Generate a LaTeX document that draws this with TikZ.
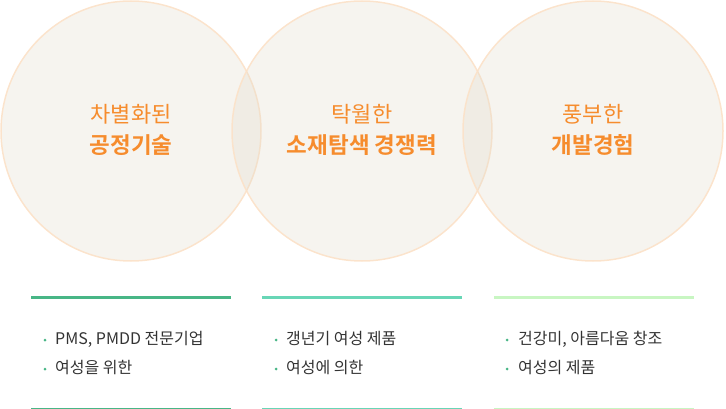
\documentclass[tikz,border=0pt]{standalone}
\usepackage{fontspec}
\newfontfamily\kr{Noto Sans CJK KR}
\newfontfamily\krm{Noto Sans CJK KR Medium}
\newfontfamily\krb{Noto Sans CJK KR Bold}
\definecolor{circfill}{RGB}{225,218,202}
\definecolor{circline}{RGB}{252,226,200}
\definecolor{orangetxt}{RGB}{246,140,45}
\definecolor{darktxt}{RGB}{51,51,51}
\definecolor{gA}{RGB}{72,182,134}
\definecolor{gB}{RGB}{104,214,182}
\definecolor{gC}{RGB}{200,246,194}
\tikzset{
  circ/.style={circle, minimum size=260pt, inner sep=0pt, fill=circfill, fill opacity=0.3, draw=circline, draw opacity=0.9, line width=1.5pt},
  head/.style={text=orangetxt, font=\kr\fontsize{22}{24}\selectfont, inner sep=0pt},
  headb/.style={text=orangetxt, font=\krb\fontsize{22.5}{24}\selectfont, inner sep=0pt},
  item/.style={text=darktxt, font=\kr\fontsize{16}{18}\selectfont, anchor=west, inner sep=0pt},
  dot/.style={circle, inner sep=0pt, minimum size=3pt}
}
\begin{document}
\begin{tikzpicture}[x=1pt,y=-1pt]
\useasboundingbox (0,0) rectangle (726,409);
\node[circ] (c1) at (131,131) {};
\node[circ] (c2) at (362,131) {};
\node[circ] (c3) at (593,131) {};
\node[head] (t1a) at (131,114) {차별화된};
\node[headb] (t1b) at (131,145) {공정기술};
\node[head] (t2a) at (362,114) {탁월한};
\node[headb] (t2b) at (362,145) {소재탐색 경쟁력};
\node[head] (t3a) at (593,114) {풍부한};
\node[headb] (t3b) at (593,145) {개발경험};
% lines
\coordinate (l1a) at (31,297.5); \coordinate (l1b) at (231,297.5);
\coordinate (l2a) at (262,297.5); \coordinate (l2b) at (462,297.5);
\coordinate (l3a) at (494,297.5); \coordinate (l3b) at (694,297.5);
\coordinate (m1a) at (31,408); \coordinate (m1b) at (231,408);
\coordinate (m2a) at (262,408); \coordinate (m2b) at (462,408);
\coordinate (m3a) at (494,408); \coordinate (m3b) at (694,408);
\draw[gA, line width=3pt] (l1a) -- (l1b);
\draw[gB, line width=3pt] (l2a) -- (l2b);
\draw[gC, line width=3pt] (l3a) -- (l3b);
\draw[gA, line width=1pt] (m1a) -- (m1b);
\draw[gB, line width=1pt] (m2a) -- (m2b);
\draw[gC, line width=1pt] (m3a) -- (m3b);
% bullets
\node[dot, fill=gA] (d11) at (45,340) {};
\node[dot, fill=gA] (d12) at (45,369) {};
\node[dot, fill=gA] (d21) at (276,340) {};
\node[dot, fill=gA] (d22) at (276,369) {};
\node[dot, fill=gA] (d31) at (507,340) {};
\node[dot, fill=gA] (d32) at (507,369) {};
\node[item] (i11) at (55,339) {PMS, PMDD 전문기업};
\node[item] (i12) at (55,368) {여성을 위한};
\node[item] (i21) at (286,339) {갱년기 여성 제품};
\node[item] (i22) at (286,368) {여성에 의한};
\node[item] (i31) at (518,339) {건강미, 아름다움 창조};
\node[item] (i32) at (518,368) {여성의 제품};
\end{tikzpicture}
\end{document}
